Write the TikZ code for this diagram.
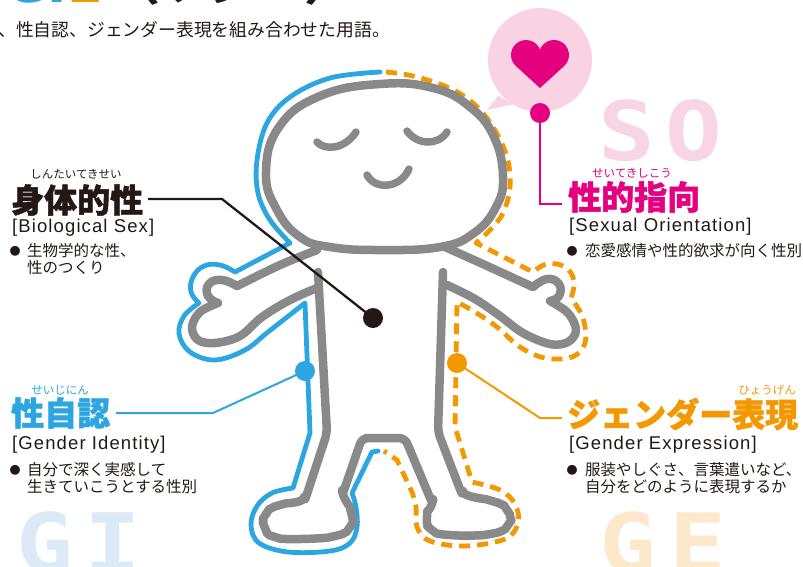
\documentclass[tikz,border=0pt]{standalone}
\usepackage{fontspec}
\setmainfont{Liberation Sans}
\newfontfamily\jpfont{Noto Sans CJK JP}
\newfontfamily\jpheavy{Noto Sans CJK JP}[FakeBold=1.3]
\newfontfamily\labelfont{Liberation Sans}[LetterSpace=6]
\newfontfamily\letterfont{DejaVu Sans Mono}
\newfontfamily\titlefont{DejaVu Sans}

\definecolor{figgray}{HTML}{898989}
\definecolor{giblue}{HTML}{2CA6E0}
\definecolor{georange}{HTML}{F39800}
\definecolor{sopink}{HTML}{E4007F}
\definecolor{ink}{HTML}{231815}
\definecolor{bubblepink}{HTML}{F9D3E3}
\definecolor{soletter}{HTML}{F8D5E4}
\definecolor{giletter}{HTML}{DCEAF8}
\definecolor{geletter}{HTML}{FDE8CC}

\newcommand{\widen}[1]{\scalebox{1.15}[1]{#1}}

\tikzset{
  figline/.style={draw=figgray, line width=8.5pt, line cap=round, line join=round},
  faceline/.style={draw=figgray, line width=7.5pt, line cap=round},
  giline/.style={draw=giblue, line width=4.8pt, line cap=round, line join=round},
  geline/.style={draw=georange, line width=4.8pt, line join=round, dash pattern=on 11pt off 7pt},
  heading/.style={font=\jpheavy\bfseries\fontsize{33}{33}\selectfont, inner sep=0pt, anchor=west},
  ruby/.style={font=\jpfont\fontsize{11.5}{11.5}\selectfont, inner sep=0pt},
  engl/.style={font=\labelfont\fontsize{18.5}{18.5}\selectfont, text=ink, inner sep=0pt, anchor=west},
  desc/.style={font=\jpfont\fontsize{15.5}{15.5}\selectfont, text=ink, inner sep=0pt, anchor=west},
  bulletmark/.style={font=\jpfont\fontsize{11}{11}\selectfont, text=ink, inner sep=0pt},
  calldot/.style={circle, inner sep=0pt, minimum size=20pt, fill=#1},
  bigletter/.style={font=\letterfont\bfseries\fontsize{82}{82}\selectfont, inner sep=0pt, anchor=base, text=#1},
}

\begin{document}
\begin{tikzpicture}[x=1pt, y=-1pt]
\useasboundingbox (0,0) rectangle (803,566);
\clip (0,0) rectangle (803,566);

% ---- title (runs off the top edge) ----
\node[font=\titlefont\bfseries\fontsize{52}{52}\selectfont, inner sep=0pt, anchor=base east]
  (titleLatin) at (103,2) {\textcolor{giblue}{GI}\textcolor{georange}{E}};
\node[font=\jpfont\bfseries\fontsize{48}{48}\selectfont, text=ink, inner sep=0pt, anchor=base west]
  (titleKana) at (112,0) {（ソジー）};
\node[font=\jpfont\fontsize{17.8}{17.8}\selectfont, text=ink, inner sep=0pt, anchor=west]
  (lead) at (-2,29.5) {、性自認、ジェンダー表現を組み合わせた用語。};

% ---- faint initials ----
\node[bigletter=soletter] (letS) at (627,160) {\widen{S}};
\node[bigletter=soletter] (letO) at (694,160) {\widen{O}};
\node[bigletter=giletter] (letGa) at (45,572) {\widen{G}};
\node[bigletter=giletter] (letI) at (113,572) {\widen{I}};
\node[bigletter=geletter] (letGb) at (628,572) {\widen{G}};
\node[bigletter=geletter] (letE) at (698,572) {\widen{E}};

% ---- speech bubble with heart ----
\fill[bubblepink] (540,60) circle[radius=52];
\fill[bubblepink] (498,96) -- (487,110) -- (515,104) -- cycle;
\fill[sopink] (540,88) -- (515.4,65.6) arc[start angle=135, end angle=339, radius=15]
  arc[start angle=201, end angle=405, radius=15] -- cycle;

% ---- outer outlines: gender identity (solid) and expression (dashed) ----
\draw[giline] plot[smooth, tension=0.6] coordinates {(380,72) (330,78) (290,97) (267,123) (257,160) (258,193) (270,220) (290,243)}
  -- (235,272)
  -- plot[smooth, tension=0.7] coordinates {(235,272) (220,265) (204,266) (193,277) (191,292) (199,303)}
  -- plot[smooth, tension=0.6] coordinates {(199,303) (184,316) (179,334) (190,352) (215,360) (245,350) (268,332) (305,303)}
  -- (310,433) -- (293,488)
  -- plot[smooth, tension=0.6] coordinates {(293,488) (272,493) (257,506) (251,525) (259,543) (288,552) (330,551) (350,543) (357,527) (356,507) (352,493)}
  -- (372,452) -- (378,451);

\draw[geline] plot[smooth, tension=0.6] coordinates {(386,72) (413,76) (447,87) (473,103) (493,127) (507,157) (510,187) (503,213) (490,230) (476,243)}
  -- (533,272)
  -- plot[smooth, tension=0.7] coordinates {(533,272) (547,264) (565,267) (574,281) (571,298)}
  -- plot[smooth, tension=0.6] coordinates {(571,298) (583,318) (585,343) (572,357) (545,358) (520,347) (497,327) (475,312) (457,302)}
  -- (455,427) -- (472,482)
  -- plot[smooth, tension=0.6] coordinates {(472,482) (500,490) (515,504) (518,523) (505,539) (465,546) (430,541) (417,527) (416,507) (412,492)}
  -- (397,460) -- (384,451);

% ---- figure ----
\draw[figline] plot[smooth cycle, tension=0.75] coordinates {(380,84) (433,88) (470,107) (494,137) (503,177) (496,207) (474,233) (440,247) (380,250) (330,247) (300,237) (277,210) (266,173) (279,127) (320,96)};
% face
\draw[faceline] (317,142) .. controls (325,151) and (345,149) .. (356,132);
\draw[faceline] (407,131) .. controls (417,145) and (438,146) .. (447,132);
\draw[faceline] (367,175) .. controls (375,190) and (400,189) .. (409,169);
% left arm
\draw[figline] plot[smooth, tension=0.5] coordinates {(317,250) (280,265) (237,286)}
  -- plot[smooth, tension=0.8] coordinates {(237,286) (222,280) (209,284) (208,296) (218,303)}
  -- plot[smooth, tension=0.6] coordinates {(218,303) (200,312) (192,327) (198,340) (215,343) (240,336) (262,317) (290,300) (317,288)};
% right arm
\draw[figline] plot[smooth, tension=0.5] coordinates {(445,247) (485,265) (533,287)}
  -- plot[smooth, tension=0.8] coordinates {(533,287) (547,279) (559,284) (559,296) (550,301)}
  -- plot[smooth, tension=0.6] coordinates {(550,301) (568,313) (576,330) (568,342) (550,344) (523,333) (500,316) (475,299) (447,285)};
% body and legs
\draw[figline, rounded corners=6] (318,272) -- (327,433) -- (304,503)
  -- plot[smooth, tension=0.6] coordinates {(304,503) (280,505) (266,514) (265,528) (275,537) (300,539) (335,536) (350,527) (351,512) (342,496)}
  -- (362,438) -- (405,438) -- (433,505)
  -- plot[smooth, tension=0.6] coordinates {(433,505) (427,517) (432,530) (450,535) (490,534) (508,525) (507,510) (492,501) (463,497)}
  -- (438,432) -- (443,272);

% ---- callouts ----
\node[calldot=ink] (bsDot) at (373,318) {};
\coordinate (bsBend) at (222,199);
\coordinate (bsEnd) at (148,199);
\draw[draw=ink, line width=2.3pt] (bsDot.center) -- (bsBend) -- (bsEnd);

\node[calldot=giblue] (giDot) at (305,371) {};
\coordinate (giBend) at (213,413);
\coordinate (giEnd) at (116,413);
\draw[draw=giblue, line width=2pt] (giDot.center) -- (giBend) -- (giEnd);

\node[calldot=georange] (geDot) at (457,363) {};
\coordinate (geBend) at (540,418);
\coordinate (geEnd) at (562,418);
\draw[draw=georange, line width=2pt] (geDot.center) -- (geBend) -- (geEnd);

\node[calldot=sopink] (soDot) at (540,113) {};
\coordinate (soBend) at (540,204);
\coordinate (soEnd) at (562,204);
\draw[draw=sopink, line width=2.5pt] (soDot.center) -- (soBend) -- (soEnd);

% ---- labels: biological sex ----
\node[ruby, text=ink] (bsRuby) at (76,174) {しんたいてきせい};
\node[heading, text=ink] (bsHead) at (11,200) {身体的性};
\node[engl] (bsEng) at (12,228) {[Biological Sex]};
\node[bulletmark] (bsBul) at (15,251) {●};
\node[desc] (bsText1) at (27,251) {生物学的な性、};
\node[desc] (bsText2) at (27,268) {性のつくり};

% ---- labels: gender identity ----
\node[ruby, text=giblue] (giRuby) at (60,390) {せいじにん};
\node[heading, text=giblue] (giHead) at (11,413) {性自認};
\node[engl] (giEng) at (12,445) {[Gender Identity]};
\node[bulletmark] (giBul) at (15,470) {●};
\node[desc] (giText1) at (27,470) {自分で深く実感して};
\node[desc] (giText2) at (27,487) {生きていこうとする性別};

% ---- labels: sexual orientation ----
\node[ruby, text=sopink] (soRuby) at (632,173) {せいてきしこう};
\node[heading, text=sopink] (soHead) at (568,197) {性的指向};
\node[engl] (soEng) at (569,227) {[Sexual Orientation]};
\node[bulletmark] (soBul) at (572,251) {●};
\node[desc] (soText1) at (585,251) {恋愛感情や性的欲求が向く性別};

% ---- labels: gender expression ----
\node[ruby, text=georange] (geRuby) at (767,390) {ひょうげん};
\node[heading, text=georange] (geHead) at (567,414) {ジェンダー表現};
\node[engl] (geEng) at (569,445) {[Gender Expression]};
\node[bulletmark] (geBul) at (572,470) {●};
\node[desc] (geText1) at (585,470) {服装やしぐさ、言葉遣いなど、};
\node[desc] (geText2) at (585,487) {自分をどのように表現するか};
\end{tikzpicture}
\end{document}
